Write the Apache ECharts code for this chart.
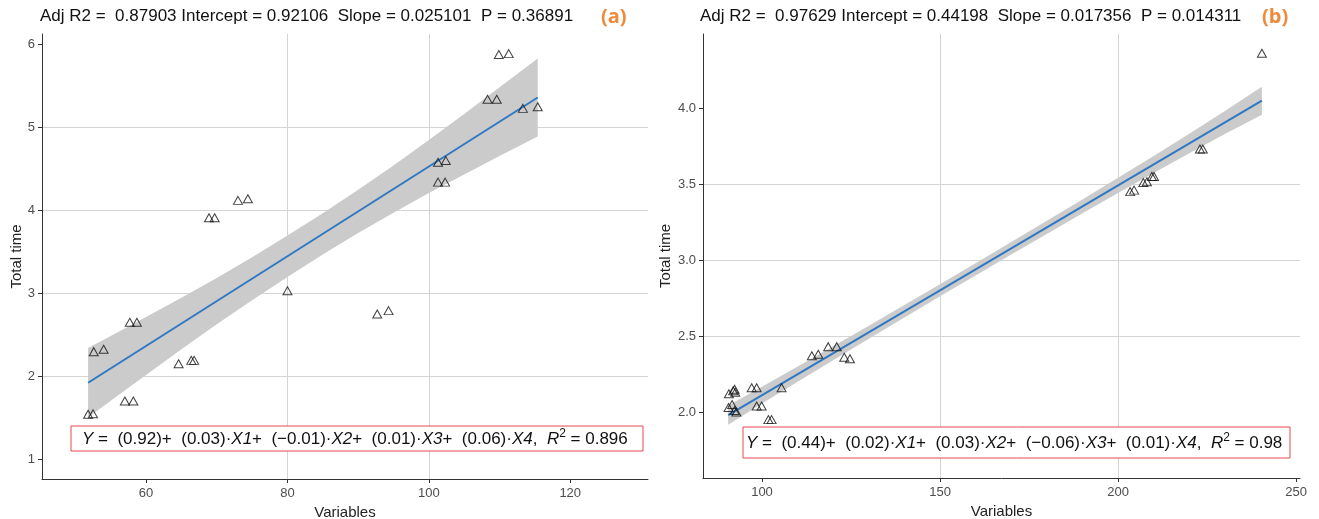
<!DOCTYPE html>
<html><head><meta charset="utf-8">
<script src="https://cdn.jsdelivr.net/npm/echarts@6/dist/echarts.min.js"></script>
<style>html,body{margin:0;padding:0;background:#fff}#c{width:1319px;height:519px}</style>
</head><body><div id="c"></div>
<script>
// ---------- Panel (a) data ----------
const aPointX = [51.8, 52.5, 52.6, 54.0, 57.7, 58.7, 57.0, 58.2, 64.6, 66.4, 66.8, 80.0, 73.0, 74.4, 68.9, 69.7, 92.7, 94.3, 109.9, 111.3, 108.3, 109.6, 113.3, 115.4, 101.3, 102.4, 101.3, 102.3];
const aPointY = [1.54, 1.545, 2.295, 2.325, 2.65, 2.65, 1.70, 1.70, 2.15, 2.19, 2.19, 3.03, 4.12, 4.14, 3.91, 3.91, 2.75, 2.79, 5.88, 5.89, 5.34, 5.34, 5.23, 5.25, 4.58, 4.60, 4.34, 4.34];
const aFitX   = [51.8, 80, 115.4];
const aFitY   = [1.92, 3.446, 5.361];
const aBandX  = [51.8, 55, 60, 65, 70, 75, 80, 85, 90, 95, 100, 105, 110, 115.4];
const aBandLo = [1.50, 1.703, 2.014, 2.324, 2.625, 2.915, 3.196, 3.466, 3.727, 3.972, 4.208, 4.433, 4.654, 4.891];
const aBandHi = [2.34, 2.483, 2.714, 2.944, 3.185, 3.435, 3.696, 3.966, 4.247, 4.542, 4.848, 5.163, 5.484, 5.831];
const aXTicks = [60, 80, 100, 120];
const aYTicks = [1, 2, 3, 4, 5, 6];
const aTitle = 'Adj R2 =  0.87903 Intercept = 0.92106  Slope = 0.025101  P = 0.36891';
const aEq = '{i|Y} =  (0.92)+  (0.03)\u00b7{i|X1}+  (\u22120.01)\u00b7{i|X2}+  (0.01)\u00b7{i|X3}+  (0.06)\u00b7{i|X4},  {i|R}{s|2} = 0.896';

// ---------- Panel (b) data ----------
const bPointX = [90.7, 91.9, 92.3, 92.5, 90.6, 91.6, 92.3, 92.8, 97.1, 98.5, 98.5, 99.9, 101.8, 102.7, 105.5, 114.0, 115.8, 118.6, 121.0, 123.1, 124.7, 203.4, 204.5, 207.1, 208.1, 209.5, 210.1, 223.0, 223.8, 240.4];
const bPointY = [2.12, 2.14, 2.15, 2.13, 2.03, 2.05, 2.01, 2.00, 2.16, 2.16, 2.04, 2.04, 1.95, 1.95, 2.16, 2.37, 2.38, 2.43, 2.43, 2.36, 2.35, 3.45, 3.46, 3.51, 3.515, 3.55, 3.55, 3.73, 3.73, 4.36];
const bFitX   = [90.5, 150, 240.4];
const bFitY   = [1.98, 2.801, 4.048];
const bBandX  = [90.5, 100, 110, 120, 130, 140, 150, 160, 170, 180, 190, 200, 210, 220, 230, 240.4];
const bBandLo = [1.917, 2.056, 2.199, 2.341, 2.482, 2.622, 2.761, 2.899, 3.036, 3.172, 3.307, 3.441, 3.573, 3.703, 3.829, 3.956];
const bBandHi = [2.043, 2.166, 2.299, 2.433, 2.568, 2.704, 2.841, 2.979, 3.118, 3.258, 3.399, 3.541, 3.685, 3.831, 3.981, 4.140];
const bXTicks = [100, 150, 200, 250];
const bYTicks = [2.0, 2.5, 3.0, 3.5, 4.0];
const bTitle = 'Adj R2 =  0.97629 Intercept = 0.44198  Slope = 0.017356  P = 0.014311';
const bEq = '{i|Y} =  (0.44)+  (0.02)\u00b7{i|X1}+  (0.03)\u00b7{i|X2}+  (\u22120.06)\u00b7{i|X3}+  (0.01)\u00b7{i|X4},  {i|R}{s|2} = 0.98';

const FONT = '"Liberation Sans", Arial, sans-serif';
const zip = (xs, ys) => xs.map((x, i) => [x, ys[i]]);
const GRID_COLOR = '#d4d4d4';

function xAxisDef(gi, min, max, step, ticks, dec) {
  return {
    type: 'value', gridIndex: gi, min: min, max: max,
    minInterval: step, maxInterval: step, splitNumber: 5,
    name: 'Variables', nameLocation: 'middle', nameGap: 25,
    nameTextStyle: { fontFamily: FONT, fontSize: 15, color: '#222' },
    axisLine: { onZero: false, lineStyle: { color: '#333', width: 1 } },
    axisTick: { length: 4, customValues: ticks, lineStyle: { color: '#333' } },
    axisLabel: { customValues: ticks, margin: 8, fontFamily: FONT, fontSize: 13, color: '#4d4d4d',
      formatter: v => dec ? v.toFixed(dec) : String(v) },
    splitLine: { show: true, showMinLine: false, showMaxLine: false, lineStyle: { color: GRID_COLOR, width: 1 } }
  };
}
function yAxisDef(gi, min, max, step, ticks, dec) {
  return {
    type: 'value', gridIndex: gi, min: min, max: max,
    minInterval: step, maxInterval: step, splitNumber: 5,
    name: 'Total time', nameLocation: 'middle', nameGap: dec ? 30 : 18, nameRotate: 90,
    nameTextStyle: { fontFamily: FONT, fontSize: 15, color: '#222' },
    axisLine: { show: true, onZero: false, lineStyle: { color: '#333', width: 1 } },
    axisTick: { show: true, length: 4, customValues: ticks, lineStyle: { color: '#333' } },
    axisLabel: { customValues: ticks, margin: 7, fontFamily: FONT, fontSize: 13, color: '#4d4d4d',
      formatter: v => dec ? v.toFixed(dec) : String(v) },
    splitLine: { show: true, showMinLine: false, showMaxLine: false, lineStyle: { color: GRID_COLOR, width: 1 } }
  };
}
function bandSeries(gi, xs, lo, hi) {
  return {
    type: 'custom', xAxisIndex: gi, yAxisIndex: gi, silent: true, z: 1,
    data: xs.map((x, i) => [x, lo[i], hi[i]]),
    encode: { x: 0, y: [1, 2] },
    renderItem: function (params, api) {
      if (params.dataIndex !== 0) return null;
      const pts = [];
      for (let i = 0; i < xs.length; i++) pts.push(api.coord([xs[i], hi[i]]));
      for (let i = xs.length - 1; i >= 0; i--) pts.push(api.coord([xs[i], lo[i]]));
      return { type: 'polygon', shape: { points: pts }, style: { fill: '#cbcbcb' } };
    }
  };
}
function fitSeries(gi, xs, ys) {
  return { type: 'line', xAxisIndex: gi, yAxisIndex: gi, data: zip(xs, ys), symbol: 'none', z: 3,
    lineStyle: { color: '#2f78c4', width: 2 }, silent: true };
}
function pointSeries(gi, xs, ys) {
  return { type: 'scatter', xAxisIndex: gi, yAxisIndex: gi, data: zip(xs, ys), z: 5,
    symbol: 'triangle', symbolSize: [9, 8],
    itemStyle: { color: 'rgba(0,0,0,0)', borderColor: '#111', borderWidth: 1 } };
}
const rich = {
  i: { fontStyle: 'italic', fontFamily: FONT, fontSize: 17, color: '#111' },
  s: { fontFamily: FONT, fontSize: 12, color: '#111', padding: [0, 0, 10, 0] }
};

const chart = echarts.init(document.getElementById('c'), null, { renderer: 'canvas' });
chart.setOption({
  backgroundColor: '#fff',
  animation: false,
  grid: [
    { left: 42, top: 34, width: 606, height: 445, containLabel: false, outerBoundsMode: 'none' },
    { left: 703, top: 34, width: 597, height: 444, containLabel: false, outerBoundsMode: 'none' }
  ],
  xAxis: [ xAxisDef(0, 45.28, 131.0, 20, aXTicks, 0), xAxisDef(1, 83.43, 251.1, 50, bXTicks, 0) ],
  yAxis: [ yAxisDef(0, 0.759, 6.127, 1, aYTicks, 0), yAxisDef(1, 1.566, 4.487, 0.5, bYTicks, 1) ],
  series: [
    bandSeries(0, aBandX, aBandLo, aBandHi), fitSeries(0, aFitX, aFitY), pointSeries(0, aPointX, aPointY),
    bandSeries(1, bBandX, bBandLo, bBandHi), fitSeries(1, bFitX, bFitY), pointSeries(1, bPointX, bPointY)
  ],
  graphic: [
    { type: 'text', left: 40, top: 8, style: { text: aTitle, font: '17px ' + FONT, fill: '#111' } },
    { type: 'text', left: 601, top: 7, style: { text: '(a)', font: 'bold 20px "Open Sans", sans-serif', fill: '#ef8a3c' } },
    { type: 'text', left: 700, top: 8, style: { text: bTitle, font: '17px ' + FONT, fill: '#111' } },
    { type: 'text', left: 1262, top: 7, style: { text: '(b)', font: 'bold 20px "Open Sans", sans-serif', fill: '#ef8a3c' } },
    { type: 'rect', shape: { x: 71, y: 426, width: 572, height: 25 }, style: { fill: '#fff', stroke: '#e8484c', lineWidth: 1 }, z: 10 },
    { type: 'text', x: 82, y: 439, z: 11, style: { text: aEq, rich: rich, font: '17px ' + FONT, fill: '#111', verticalAlign: 'middle' } },
    { type: 'rect', shape: { x: 743, y: 427, width: 547, height: 31 }, style: { fill: '#fff', stroke: '#e8484c', lineWidth: 1 }, z: 10 },
    { type: 'text', x: 746, y: 443, z: 11, style: { text: bEq, rich: rich, font: '17px ' + FONT, fill: '#111', verticalAlign: 'middle' } }
  ]
});
</script></body></html>
